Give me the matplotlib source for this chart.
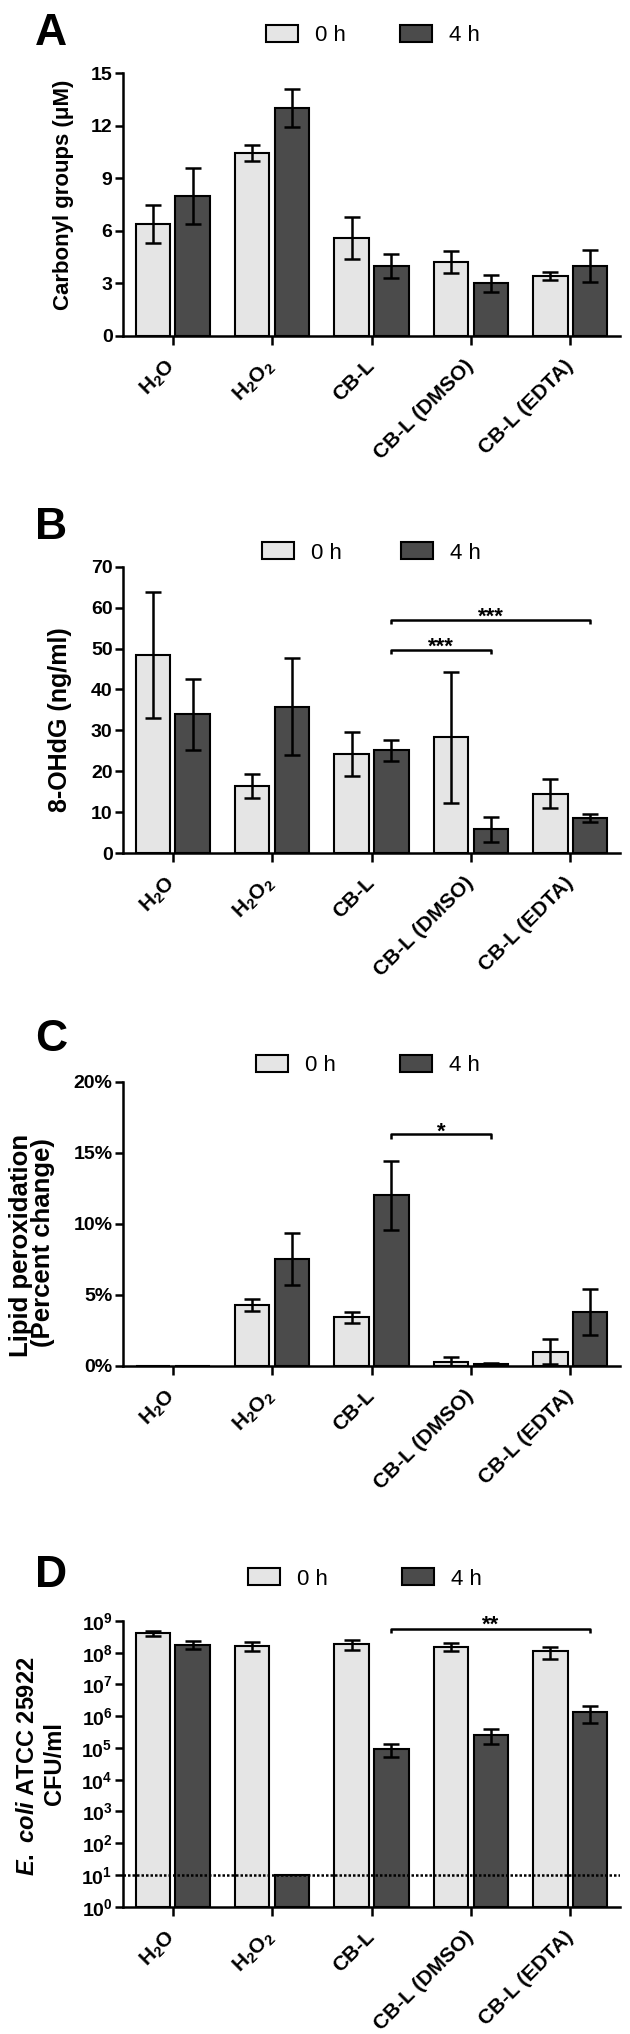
import numpy as np
import matplotlib
matplotlib.use("Agg")
import matplotlib.pyplot as plt
from matplotlib.patches import Patch
from matplotlib.ticker import FixedLocator, FixedFormatter, NullLocator

plt.rcParams['font.family'] = ['Liberation Sans', 'DejaVu Sans']
plt.rcParams['mathtext.fontset'] = 'custom'
plt.rcParams['mathtext.rm'] = 'Liberation Sans:bold'
plt.rcParams['mathtext.bf'] = 'Liberation Sans:bold'
plt.rcParams['mathtext.it'] = 'Liberation Sans:italic:bold'

# ---------------- data ----------------
categories = [r'H$_2$O', r'H$_2$O$_2$', 'CB-L', 'CB-L (DMSO)', 'CB-L (EDTA)']
series = ['0 h', '4 h']

carbonyl_0h = [6.4, 10.45, 5.6, 4.24, 3.42]
carbonyl_0h_err = [1.1, 0.45, 1.2, 0.62, 0.25]
carbonyl_4h = [8.0, 13.0, 4.0, 3.0, 4.0]
carbonyl_4h_err = [1.6, 1.1, 0.67, 0.47, 0.9]

ohdg_0h = [48.4, 16.3, 24.2, 28.3, 14.5]
ohdg_0h_err = [15.5, 2.95, 5.3, 16.0, 3.5]
ohdg_4h = [33.9, 35.8, 25.1, 5.8, 8.6]
ohdg_4h_err = [8.7, 11.8, 2.5, 3.1, 0.9]

lipid_0h = [0.0, 4.3, 3.4, 0.28, 1.0]
lipid_0h_err = [0.0, 0.43, 0.4, 0.3, 0.9]
lipid_4h = [0.0, 7.5, 12.0, 0.15, 3.8]
lipid_4h_err = [0.0, 1.82, 2.45, 0.05, 1.62]

cfu_0h = [4.2e8, 1.65e8, 1.85e8, 1.55e8, 1.1e8]
cfu_0h_err = [0.8e8, 0.55e8, 0.63e8, 0.45e8, 0.47e8]
cfu_4h = [1.8e8, 10.0, 9.5e4, 2.6e5, 1.4e6]
cfu_4h_err = [0.5e8, 0.0, 4.2e4, 1.3e5, 0.77e6]
detection_limit = 10.0

# significance: (from group, to group, label) compared on the 4 h bars
ohdg_sig = [(2, 3, '***'), (2, 4, '***')]
lipid_sig = [(2, 3, '*')]
cfu_sig = [(2, 4, '**')]

# ---------------- style ----------------
W, H = 630, 2034
LIGHT = '#e5e5e5'
DARK = '#4b4b4b'
BAR_W = 0.345
OFF = 0.2
LW = 1.8

fig = plt.figure(figsize=(W / 100, H / 100), dpi=100)
AX_L, AX_R = 123, 620


def fx(px):
    return px / W


def fy(py):
    return 1 - py / H


def make_panel(top, bottom, letter, letter_top, leg_left, leg_y, colsp,
               m0, e0, m4, e4, ylim, yticks, yticklabels, ylabels,
               ylab_fs, log=False, sig=None, sig_y=None, sig_drop=None,
               star_off=None, dotted=None):
    ax = fig.add_axes([fx(AX_L), fy(bottom), (AX_R - AX_L) / W, (bottom - top) / H])
    x = np.arange(len(categories))
    base = 1.0 if log else 0.0
    if log:
        ax.set_yscale('log')
    m0 = np.asarray(m0, float); m4 = np.asarray(m4, float)
    e0 = np.asarray(e0, float); e4 = np.asarray(e4, float)
    ax.bar(x - OFF, m0 - base, bottom=base, width=BAR_W, color=LIGHT,
           edgecolor='black', linewidth=1.5, zorder=2)
    ax.bar(x + OFF, m4 - base, bottom=base, width=BAR_W, color=DARK,
           edgecolor='black', linewidth=1.5, zorder=2)
    for xs, m, e in ((x - OFF, m0, e0), (x + OFF, m4, e4)):
        k = e > 0
        ax.errorbar(xs[k], m[k], yerr=e[k], fmt='none', ecolor='black',
                    elinewidth=1.8, capsize=6, capthick=1.8, zorder=3)
    if dotted is not None:
        ax.axhline(dotted, color='black', linestyle=(0, (1, 0.8)), linewidth=1.8, zorder=4)
    ax.set_xlim(-0.5, 4.5)
    ax.set_ylim(*ylim)
    ax.yaxis.set_major_locator(FixedLocator(yticks))
    ax.yaxis.set_major_formatter(FixedFormatter(yticklabels))
    ax.yaxis.set_minor_locator(NullLocator())
    ax.set_xticks(x)
    ax.set_xticklabels(categories, rotation=45, ha='right', va='center',
                       rotation_mode='anchor', fontsize=15, fontweight='bold')
    for s in ('top', 'right'):
        ax.spines[s].set_visible(False)
    for s in ('left', 'bottom'):
        ax.spines[s].set_linewidth(LW)
    ax.tick_params(axis='y', direction='out', length=6, width=LW, labelsize=14, pad=1.5)
    ax.tick_params(axis='x', direction='out', length=6.5, width=LW, pad=13)
    for t in ax.get_yticklabels():
        t.set_fontweight('bold')
    ax.patch.set_visible(False)

    if sig:
        for (g1, g2, lab), yv, dr, so in zip(sig, sig_y, sig_drop, star_off):
            x1, x2 = g1 + OFF, g2 + OFF
            ax.plot([x1, x1, x2, x2], [yv - dr, yv, yv, yv - dr], color='black',
                    linewidth=1.8, clip_on=False, zorder=5, solid_capstyle='butt')
            ax.annotate(lab, xy=((x1 + x2) / 2, yv), xytext=(0, so),
                        textcoords='offset points', ha='center', va='baseline',
                        fontsize=16, fontweight='bold')

    # panel letter
    fig.text(fx(35), fy(letter_top), letter, fontsize=32, fontweight='bold',
             ha='left', va='top')
    # legend
    handles = [Patch(facecolor=LIGHT, edgecolor='black', linewidth=1.5),
               Patch(facecolor=DARK, edgecolor='black', linewidth=1.5)]
    ax.legend(handles, series, loc='center left',
              bbox_to_anchor=(fx(leg_left), fy(leg_y)), bbox_transform=fig.transFigure,
              ncol=2, frameon=False, borderpad=0, borderaxespad=0,
              handlelength=1.44, handleheight=0.79, handletextpad=0.77,
              columnspacing=colsp, prop={'size': 16})
    # y label (one text per line)
    for lab, lx, ly in ylabels:
        fig.text(fx(lx), fy(ly), lab, rotation=90, ha='center', va='center',
                 fontsize=ylab_fs, fontweight='bold')
    return ax


make_panel(73, 336, 'A', 13, 266, 35.5, 2.43,
           carbonyl_0h, carbonyl_0h_err, carbonyl_4h, carbonyl_4h_err,
           (0, 15), [0, 3, 6, 9, 12, 15], ['0', '3', '6', '9', '12', '15'],
           [('Carbonyl groups (μM)', 64, 195)], 16)

make_panel(566.7, 853, 'B', 507, 262, 553, 2.64,
           ohdg_0h, ohdg_0h_err, ohdg_4h, ohdg_4h_err,
           (0, 70), list(range(0, 71, 10)), [str(v) for v in range(0, 71, 10)],
           [('8-OHdG (ng/ml)', 60, 720)], 18,
           sig=ohdg_sig, sig_y=[49.7, 56.9], sig_drop=[1.0, 1.0], star_off=[-2, -2])

make_panel(1081.7, 1365.7, 'C', 1019, 256, 1065.5, 2.88,
           lipid_0h, lipid_0h_err, lipid_4h, lipid_4h_err,
           (0, 20), [0, 5, 10, 15, 20], ['%d%%' % v for v in (0, 5, 10, 15, 20)],
           [('Lipid peroxidation', 21, 1245), ('(Percent change)', 43, 1243)], 18.5,
           sig=lipid_sig, sig_y=[16.3], sig_drop=[0.3], star_off=[-2.5])

make_panel(1621, 1906.7, 'D', 1555, 248, 1579, 3.33,
           cfu_0h, cfu_0h_err, cfu_4h, cfu_4h_err,
           (1, 1e9), [10.0 ** k for k in range(10)], [r'$10^{%d}$' % k for k in range(10)],
           [(r'$\mathit{E.\ coli}$ ATCC 25922', 28, 1766), ('CFU/ml', 54, 1764)], 17,
           log=True, sig=cfu_sig, sig_y=[5.5e8], sig_drop=[5.5e8 * 0.25], star_off=[-1],
           dotted=detection_limit)

fig.savefig('out.png', dpi=100)
